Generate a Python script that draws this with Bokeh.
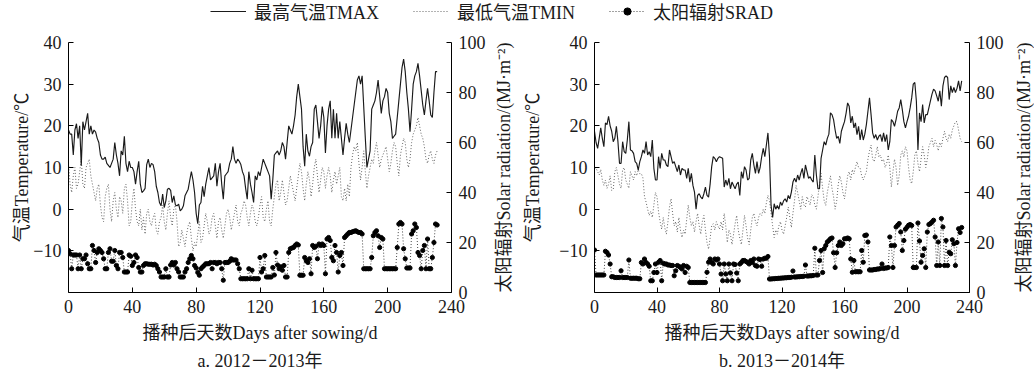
import math
from bokeh.plotting import figure
from bokeh.models import Range1d, LinearAxis, FixedTicker, Legend, LegendItem, Title
from bokeh.layouts import row, column
from bokeh.embed import file_html
from bokeh.resources import INLINE

FONT = "'Liberation Serif', 'Noto Sans CJK SC', serif"
TXT = "#1a1a1a"

# ---------------- data: panel a (2012-2013) ----------------
a_tmax = [
    19, 18, 18, 13, 19, 20.5, 17, 20, 10.5, 21, 19, 21, 23, 18, 20, 18, 19, 18.5, 17, 16,
    13, 12, 12, 12.5, 11, 10.5, 10, 11, 12, 16, 13, 11, 8, 14, 13, 17.5, 11, 9, 11.5, 10,
    10, 9, 6, 9, 11.5, 6, 4, 4.4, 5, 10.7, 12, 10, 11, 10.7, 9, 5.5, 4, 1.6, 0.8, 3.6,
    0.4, 2, 4.8, 5, 4.5, 1.6, 3.2, 1, 0.8, 1.2, -0.4, 0, 0.8, 3.2, 4, 4.8, 7, 9, 7, 4,
    -1, -3.5, 1, 1.6, 5.5, 3, 6, 8, 10, 7, 7.5, 8, 11, 5.5, 9, 11, 6, 2.4, 8, 8.5,
    9, 11, 12, 15, 12, 11, 12, 11.5, 10.7, 9, 8, 5, 2.4, 9, 6, 4, 1.6, 8, 7, 9,
    8, 10, 12, 11, 10, 9, 8, 2.4, 7, 13, 13.5, 14, 13, 14, 16, 15, 12, 16, 20, 19,
    18, 20, 22.6, 27, 30, 27, 24, 15, 10.3, 18, 14, 12.7, 15, 16, 24, 25, 21, 17, 20, 24.6,
    22, 13.5, 20, 24, 26, 17, 24, 17, 23, 17, 21, 17, 13, 17, 20.6, 18, 16, 19, 22, 25,
    28, 31, 32, 30, 32, 24.6, 17, 10, 12, 14, 24, 25, 26, 28, 31, 27, 23, 26, 27, 29,
    28, 23, 21, 17, 17.5, 18, 22, 26, 30, 34, 36, 33, 28, 24, 18.6, 24, 30, 32, 33, 35,
    32, 28.5, 25, 22.6, 26, 29, 26, 22.6, 22, 28, 33, 33,
]
a_tmin = [
    11, 6, 4, 8, 10, 5, 6, 9, 12, 6, 5, 10, 11, 12, 8, 6, 4, 2, 5, 6,
    1, -2, -3, 3, 5, 6, 0, -3, 2, 4, 0, -2, 3, 2, -1, 5, 6, 2, -4, -3,
    2, 5, 0, -3, -4, 0, -5, -2, -6, -1, 0, -3, -4, -2, -1, -5, -6, -3, -2, 1,
    -3, -5, -1, 2, -2, -4, 0, 1, -3, -9, -8, -5, -7, -9, -6, -4, -3, -7, -10, -8,
    -9, -6, -3, -8, -7, -4, -1, -3, -6, -5, -2, -1, -4, -7, -3, -2, -5, -7, -4, -1,
    0, -2, -5, -3, -1, 1, -3, -4, -1, 0, 2, 1, -2, -4, -1, 1, 0, -3, -4, -2,
    1, 3, -2, -3, 0, 2, -3, -4, 0, 3, 6, 7, 2, 4, 7, 4, 1, 2, 5, 8,
    6, 4, 2, 5, 8, 11, 9, 5, 2, 6, 9, 7, 3, 6, 10, 12, 8, 4, 7, 10,
    9, 5, 8, 10, 8, 4, 7, 9, 6, 8, 10, 3, 2, 5, 2, 6, 3, 10, 13, 15,
    14, 16, 11, 7, 10, 14, 9, 5, 8, 10, 12, 11, 14, 16, 13, 10, 12, 13, 14, 15,
    12, 9, 11, 14, 16, 15, 11, 8, 13, 15, 17, 16, 12, 10, 12, 16, 18, 19, 20, 22,
    20, 18, 17, 15, 12, 11, 13, 14, 12, 11, 13, 14,
]
a_srad = [
    16.8, 15.5, 9.5, 15, 15, 15, 9.5, 15, 9.5, 13.5, 13.5, 15, 11.5, 9.5, 9.5, 18.8, 16.8, 12, 16, 17.5,
    16.8, 16, 13.5, 9.5, 9.5, 16, 17.5, 12.5, 12.5, 16.8, 10.8, 9.5, 16, 16, 14, 8.2, 8.2, 8.2, 15, 14.5,
    10.8, 12, 15, 14, 10, 8.2, 8.2, 10.8, 11.5, 11.5, 11.3, 11.3, 11.3, 11, 11.3, 10.8, 9.5, 8.2, 6.2, 6.2,
    6.2, 9.5, 6.2, 6.2, 11, 12, 11, 12, 9.5, 8.2, 6.2, 6.2, 6.2, 8.2, 9.5, 12, 13.5, 14.8, 13.5, 10.8,
    9.8, 8, 6.9, 9.5, 10.2, 10.8, 11.5, 11.5, 11.5, 12, 9.5, 12, 12, 11.5, 12, 12, 9.5, 4.9, 12, 12,
    12, 12.5, 13.5, 13, 13, 13, 11.5, 9.5, 5.5, 5.5, 5.5, 5.5, 5.5, 9.5, 5.5, 8.9, 5.5, 5.5, 5.5, 5.5,
    14, 8.2, 9.5, 14.8, 6.2, 6.2, 6.2, 6.2, 10, 7, 16, 11, 9.5, 10.3, 8.9, 10.8, 6.2, 6.2, 16, 17.5,
    17.8, 18, 18.8, 19.4, 19, 6.9, 6.9, 6.9, 14, 12.7, 12, 13.5, 7.5, 18.8, 18, 18.5, 13.5, 19.4, 18.8, 19.4,
    18.8, 7.5, 21.4, 22, 20.8, 14, 12.7, 18.8, 16, 8.2, 14.8, 16, 10.8, 22, 22.7, 23.4, 24, 24, 24.3, 24.5,
    24.7, 24.3, 24, 24, 23.4, 9.5, 9.5, 9.5, 9.5, 9.5, 14, 22.7, 24, 24.7, 22.7, 18, 22, 21.4, 9.5, 9.5,
    9.5, 9.5, 9.5, 9.5, 9.5, 9.5, 18, 27.4, 28, 27.4, 17.5, 13.5, 9.8, 9.8, 9.8, 23.4, 24.7, 27.4, 26, 16,
    14.8, 9.5, 16.8, 18.8, 9.5, 21.4, 9.5, 9.5, 14, 20, 27.4, 27,
]

# ---------------- data: panel b (2013-2014) ----------------
b_tmax = [
    18.7, 16, 14.6, 17, 19.5, 17, 15, 20.7, 20.3, 22.3, 20, 18.7, 16.2, 17, 19.9, 16.2, 11, 11, 16.2, 13.8,
    13.4, 16.6, 21, 14.2, 14, 13.4, 11.4, 11, 9.4, 11.4, 12.6, 14.2, 13.4, 16.2, 13, 13.8, 12.6, 16.6, 9.8, 7,
    7, 12.6, 9.8, 13.4, 11.8, 11.8, 10.6, 10.2, 14.2, 12.6, 11, 11.4, 10.2, 9, 10.6, 8.2, 9.8, 9.4, 9.4, 7.4,
    9.8, 6.5, 8.6, 5.7, 4.1, 0, 3.3, 3.7, 2.9, 2.5, 3.7, 5.3, 3.3, 2.9, 6, 10.2, 12.6, 12.2, 11.4, 12.2,
    12.6, 12.4, 12.2, 5.3, 7, 5.7, 7.4, 4.9, 6.5, 5.7, 4.9, 6, 6.5, 3.3, 9, 7.4, 10.2, 9.4, 7, 7.4,
    11.8, 13.4, 10.6, 8.6, 11.4, 8.6, 10, 12.6, 14.6, 12.6, 15.4, 18.3, 12.6, 0.9, -2, 1.3, 0, 0.9, 0, 1.7,
    0.9, 2, 2.5, 1.7, 3.3, 2.5, 4.1, 6.5, 7.4, 6.5, 8.2, 7, 8.6, 9.8, 7.4, 10.6, 9, 7.4, 7.8, 7,
    6.5, 13, 8.2, 4.9, 4.9, 12.2, 14.2, 16.2, 15.4, 17, 18, 23.1, 22.7, 21.5, 19, 17, 17.5, 15.8, 18.7, 19.9,
    21, 23, 25.5, 24.7, 20.7, 22.3, 19.5, 20.7, 17.9, 19.9, 16.6, 19.1, 16.6, 18, 20.3, 23.5, 26.7, 22.7, 18.3, 17,
    17.9, 16.6, 17.5, 17.9, 16.2, 18.3, 16.2, 17.9, 14.2, 16.2, 21.5, 21, 19.9, 21.5, 23.5, 24.3, 26.3, 23.9, 21, 19.5,
    21, 22.3, 24.3, 26.7, 30, 30.4, 25.9, 14.2, 23.1, 21, 25.1, 20.7, 22.7, 22.7, 24.3, 26, 27.6, 28.8, 28.4, 27.2,
    25.9, 28.4, 24.7, 29.6, 31.6, 32, 31.6, 26.3, 29.6, 28, 29.2, 28, 29, 30.8, 28.4, 30.8,
]
b_tmin = [
    10, 9.8, 9, 8.2, 9.5, 7, 5.7, 7, 5, 6, 8, 4.5, 4.7, 9, 10, 8, 6, 5, 9.5, 10,
    7, 6, 5, 9, 8, 7, 9, 8, 9.5, 8.5, 8.5, 7.5, 3, 1.7, 0, -1.5, -0.5, -2, 1, 4,
    3, -0.7, -3, -4.8, -2, -4.5, -6, -3, 0.5, 2.5, -1, -4, -3, -5.5, -2, -5, -6.8, -5, -6, -2.5,
    1, -2, -4, -3, -5.5, -3, -1, -4, -6, -3, -1.5, -5, -8, -9.6, -7, -4, -3.5, -5, -3, -4,
    -4.8, -3, -5, -1, -4, -8, -5, -6, -8.5, -6, -3.5, -1.5, -5, -7, -8.5, -5, -1.5, -4, -7, -8.5,
    -5, -2, -1, -3, -4, -2, -1, -1.5, 0, -1, 1.5, 3.3, 2, -1, -4, -6.8, -5, -6, -4, -3,
    -5, -6, -4, -2, 0.5, -2, -4.4, -1, 2, 5.7, 4, 2, 0, 3, 1, 0.5, 3, 2, 1, 3.5,
    3, 1, 0, 3, 6, 8.6, 5, 2, 0.9, 4, 6, 8, 5, 3, 0, 2, 6, 8, 6.5, 4,
    2.5, 5, 8, 9, 7, 9.5, 8.5, 10, 11.4, 10, 9.8, 8, 7, 8, 9, 12, 14, 15.4, 12, 11.4,
    13, 15, 12.5, 13, 11.4, 12, 10, 11, 13, 10, 5.3, 9, 12, 10, 5.7, 8, 13, 14, 12.5, 15,
    14, 10, 7, 6.1, 9, 13, 14, 11, 9, 12, 15, 13, 10, 12, 15, 16, 17, 15, 16.5, 15.5,
    14, 16, 15, 17, 18.7, 17, 16.2, 18, 17, 19, 20, 21, 21, 19, 17, 16.2,
]
b_srad = [
    17, 7, 7, 7, 7, 7, 7, 16.5, 16, 15, 11.4, 6.3, 6.3, 6, 6, 6, 6, 8.7, 6, 6,
    6, 6, 13, 5.7, 5.7, 5.7, 5.7, 5.7, 5.5, 5.5, 12, 11.4, 13.4, 12, 11.4, 10.5, 4.7, 4.7, 8, 11.4,
    8, 12.1, 12.8, 4.7, 11.7, 11.4, 11.4, 11, 11, 10.8, 10.8, 6.7, 8.7, 10.8, 10.5, 10, 9.4, 10.8, 8, 10.5,
    10, 4, 4, 4, 4, 4, 4, 4, 4, 4, 4, 4, 8.1, 12.1, 13.4, 12, 11.4, 13.4, 13, 13.4,
    11.4, 7.4, 4.7, 11.4, 7.4, 4.7, 11.4, 7.8, 4.7, 11.4, 11.2, 7.8, 4.7, 11.4, 12, 12.8, 12.8, 12.4, 12, 11.4,
    12.8, 12, 13.4, 10.8, 10.5, 13.4, 13.2, 10.5, 13.4, 13.7, 13.7, 14.4, 5.4, 5.4, 5.5, 5.5, 5.6, 5.6, 5.7, 5.7,
    5.8, 5.8, 5.9, 5.9, 6, 6, 6.1, 8.6, 6.2, 6.2, 6.3, 6.3, 6.4, 6.4, 6.5, 11, 6.6, 6.6, 6.7, 6.7,
    6.8, 17.7, 7, 7, 12.8, 16.8, 8, 17.5, 18.8, 20.2, 20.8, 21.5, 21.8, 15.9, 10, 15.9, 18.8, 20.2, 18.8, 19.5,
    21.5, 21.5, 21.8, 21.5, 13.4, 8.1, 12.8, 8.3, 8.3, 8.3, 8.3, 16.8, 12.1, 22.8, 23, 20.2, 9, 9, 9, 9.2,
    9.2, 9.4, 9.4, 9.6, 11.4, 9.6, 9.8, 9.8, 10, 22.2, 18.8, 10, 18.8, 26.2, 26.9, 27.6, 24.2, 16.8, 20.8, 25.3,
    26.1, 26.9, 27.2, 26.8, 10, 10, 10, 27.8, 20.6, 12.1, 14.8, 17.5, 10, 24.2, 27.2, 27.6, 28.2, 28.9, 22.2, 10.8,
    20.2, 10.8, 29.6, 26.2, 10.8, 20.8, 10.8, 16.1, 15.5, 21.1, 19.5, 10.8, 20, 25.5, 24, 26,
]

x_ticks = [0, 40, 80, 120, 160, 200, 240]
t_ticks = [-10, 0, 10, 20, 30, 40]
s_ticks = [0, 20, 40, 60, 80, 100]
legend_labels = ["最高气温TMAX", "最低气温TMIN", "太阳辐射SRAD"]
captions = ["a. 2012－2013年", "b. 2013－2014年"]
x_label = "播种后天数Days after sowing/d"
t_label = "气温Temperature/℃"
s_label = "太阳辐射Solar radiation/(MJ·m⁻²)"

LH = 24       # legend strip height
PH = 349      # panel height
BT = 18       # top border
BB = 80       # bottom border


def style_axis(ax, ticks, label, lbl_standoff, tick_standoff):
    ax.ticker = FixedTicker(ticks=ticks)
    ax.axis_label = label
    ax.major_tick_in = 5
    ax.major_tick_out = 0
    ax.minor_tick_in = 0
    ax.minor_tick_out = 0
    ax.axis_line_color = "black"
    ax.axis_line_width = 1
    ax.major_tick_line_color = "black"
    ax.major_label_text_font = FONT
    ax.major_label_text_font_size = "18px"
    ax.major_label_text_color = TXT
    ax.major_label_standoff = tick_standoff
    ax.axis_label_text_font = FONT
    ax.axis_label_text_font_size = "18px"
    ax.axis_label_text_font_style = "normal"
    ax.axis_label_text_color = TXT
    ax.axis_label_standoff = lbl_standoff


def panel(tmax, tmin, srad, caption, width, mbl, mbr, lstand):
    n = min(len(tmax), len(tmin), len(srad))
    days = list(range(n))
    p = figure(width=width, height=PH, x_range=Range1d(0, 240), y_range=Range1d(-20, 40),
               output_backend="svg", toolbar_location=None,
               min_border_left=mbl, min_border_right=mbr, min_border_top=BT, min_border_bottom=BB)
    p.extra_y_ranges = {"srad": Range1d(0, 100)}
    p.grid.visible = False
    p.outline_line_color = None
    p.line(days, tmin[:n], line_color="#666666", line_width=1, line_dash="1 2")
    p.line(days, srad[:n], y_range_name="srad", line_color="#444444", line_width=1, line_dash="1 2")
    p.scatter(days, srad[:n], y_range_name="srad", size=4.2, fill_color="black", line_color="black")
    p.line(days, tmax[:n], line_color="#1a1a1a", line_width=1.15)
    right = LinearAxis(y_range_name="srad")
    p.add_layout(right, "right")
    style_axis(p.below[0], x_ticks, x_label, 7, 7)
    style_axis(p.left[0], t_ticks, t_label, lstand, 7)
    style_axis(right, s_ticks, None, 0, 7)
    p.add_layout(Title(text=caption, align="center", text_font=FONT, text_font_size="18px",
                       text_font_style="normal", text_color=TXT, standoff=6), "below")
    return p


def label_strip(width, border):
    # narrow figure whose (invisible) left axis carries the right-hand axis title
    f = figure(width=width, height=PH, x_range=Range1d(0, 1), y_range=Range1d(0, 1),
               output_backend="svg", toolbar_location=None,
               x_axis_location=None, y_axis_location="left",
               min_border_left=border, min_border_right=0, min_border_top=BT, min_border_bottom=BB)
    f.grid.visible = False
    f.outline_line_color = None
    ax = f.left[0]
    ax.ticker = FixedTicker(ticks=[])
    ax.axis_line_color = None
    ax.major_tick_line_color = None
    ax.minor_tick_line_color = None
    ax.major_tick_in = 0
    ax.major_tick_out = 0
    ax.major_label_text_font_size = "0px"
    ax.major_label_standoff = 0
    ax.axis_label = s_label
    ax.axis_label_text_font = FONT
    ax.axis_label_text_font_size = "18px"
    ax.axis_label_text_font_style = "normal"
    ax.axis_label_text_color = TXT
    ax.axis_label_standoff = 0
    return f


pa = panel(a_tmax, a_tmin, a_srad, captions[0], 490, 68, 39, -2)
ra = label_strip(28, 21)
pb = panel(b_tmax, b_tmin, b_srad, captions[1], 490, 76, 39, 13)
rb = label_strip(26, 25)

lf = figure(width=1034, height=LH, x_range=Range1d(0, 1), y_range=Range1d(0, 1),
            output_backend="svg", toolbar_location=None,
            x_axis_location=None, y_axis_location=None, min_border=0)
lf.outline_line_color = None
lf.grid.visible = False
r1 = lf.line([-3, -2], [-3, -2], line_color="#1a1a1a", line_width=1.15)
r2 = lf.line([-3, -2], [-3, -2], line_color="#666666", line_width=1, line_dash="1 2")
r3 = lf.line([-3, -2], [-3, -2], line_color="#444444", line_width=1, line_dash="1 2")
r4 = lf.scatter([-3], [-3], size=4.2, fill_color="black", line_color="black")
leg = Legend(items=[LegendItem(label=legend_labels[0], renderers=[r1]),
                    LegendItem(label=legend_labels[1], renderers=[r2]),
                    LegendItem(label=legend_labels[2], renderers=[r3, r4])],
             orientation="horizontal", location=(210, 0), glyph_width=36, glyph_height=18,
             label_height=18, label_standoff=8, spacing=34, padding=0, margin=0,
             border_line_color=None, background_fill_alpha=0,
             label_text_font=FONT, label_text_font_size="18px", label_text_color=TXT)
lf.add_layout(leg)

layout = column(lf, row(pa, ra, pb, rb, spacing=0), spacing=0)
open("out.html", "w").write(file_html(layout, INLINE))
